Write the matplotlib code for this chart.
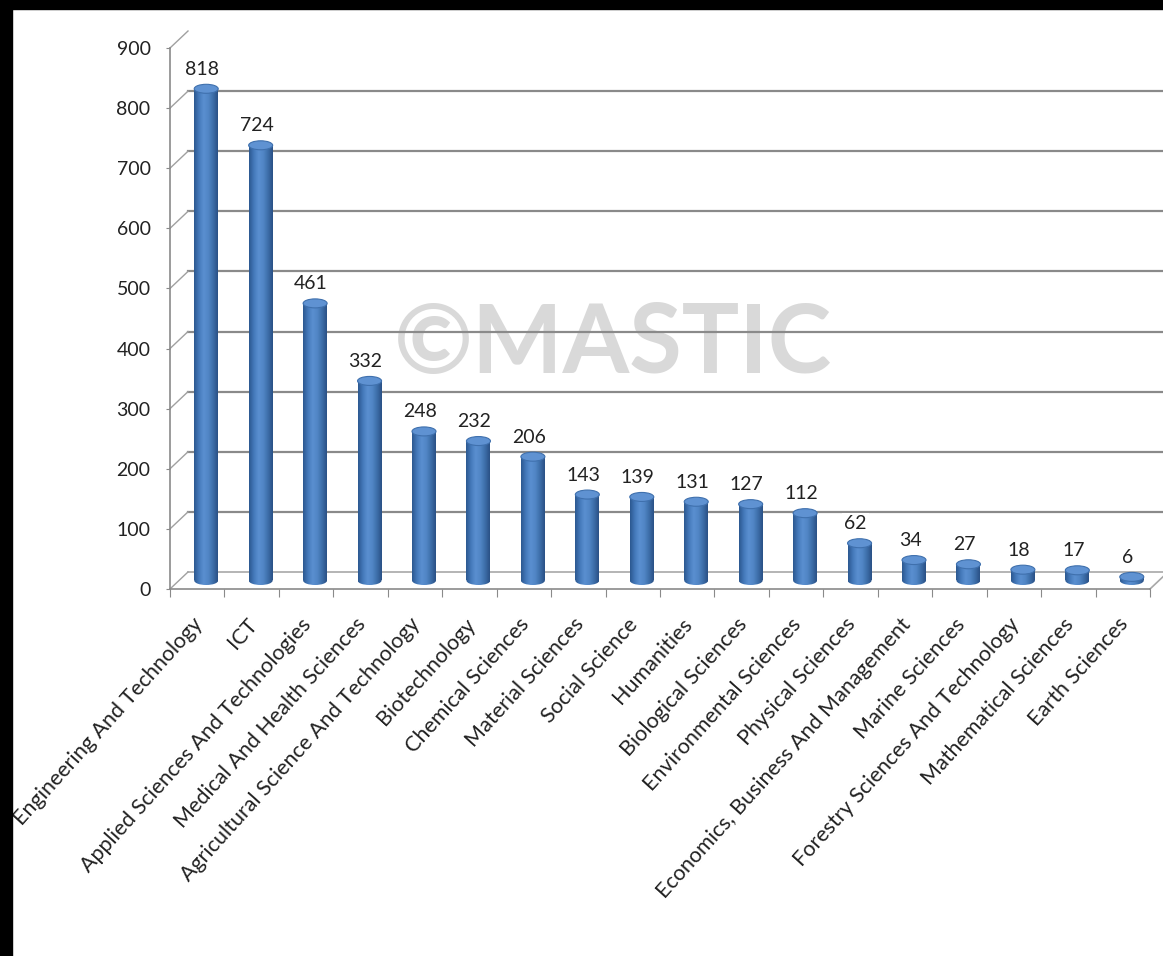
import numpy as np
import matplotlib
matplotlib.use("Agg")
import matplotlib.pyplot as plt
from matplotlib.patches import Rectangle, Ellipse
from matplotlib.colors import LinearSegmentedColormap

plt.rcParams['font.family'] = ['Lato', 'DejaVu Sans']

categories = [
    "Engineering And Technology", "ICT", "Applied Sciences And Technologies",
    "Medical And Health Sciences", "Agricultural Science And Technology",
    "Biotechnology", "Chemical Sciences", "Material Sciences", "Social Science",
    "Humanities", "Biological Sciences", "Environmental Sciences",
    "Physical Sciences", "Economics, Business And Management", "Marine Sciences",
    "Forestry Sciences And Technology", "Mathematical Sciences", "Earth Sciences",
]
values = [818, 724, 461, 332, 248, 232, 206, 143, 139, 131, 127, 112, 62, 34, 27, 18, 17, 6]
yticks = list(range(0, 901, 100))

W, H = 1163, 956
fig = plt.figure(figsize=(W / 100, H / 100), dpi=100)
fig.patch.set_facecolor('white')

# front plane of the fake 3d box (pixels)
left_px, right_px, base_px, top_px = 170, 1150, 589, 48
ax = fig.add_axes([left_px / W, (H - base_px) / H,
                   (right_px - left_px) / W, (base_px - top_px) / H])
n = len(categories)
ax.set_facecolor('none')

# depth offset, converted from pixels to data units
px_x = (right_px - left_px) / n
px_y = (base_px - top_px) / 900
DX, DY = 18 / px_x, 17 / px_y

grid_c = '#8a8a8a'
# back wall gridlines
for v in yticks[1:-1]:
    ax.plot([DX, n + 1], [v + DY, v + DY], color=grid_c, lw=1.6, clip_on=False, zorder=1)
# floor back edge and side diagonals
ax.plot([DX, n + DX], [DY, DY], color='#a8a8a8', lw=1.2, clip_on=False, zorder=1)
ax.plot([n, n + DX], [0, DY], color='#a8a8a8', lw=1.2, clip_on=False, zorder=1)
for v in yticks:
    ax.plot([0, DX], [v, v + DY], color='#a0a0a0', lw=1.0, clip_on=False, zorder=1)

# watermark
ax.text(0.452, 0.45, "\u00a9MASTIC", transform=ax.transAxes, fontsize=69,
        fontweight='bold', color='#d9d9d9', ha='center', va='center', zorder=0.5)

# cylinders
cyl = LinearSegmentedColormap.from_list(
    'cyl', ['#2c5890', '#4479ba', '#5a8fd0', '#5186c6', '#3d6ea9', '#2a5186'])
grad = np.linspace(0, 1, 64).reshape(1, -1)
bw = 24 / px_x
eh = 9 / px_y
for i, v in enumerate(values):
    cx = i + 0.5 + DX / 2
    cy = DY / 2
    x0 = cx - bw / 2
    body = Rectangle((x0, cy), bw, v, transform=ax.transData)
    bottom = Ellipse((cx, cy), bw, eh, transform=ax.transData)
    for clip in (body, bottom):
        im = ax.imshow(grad, extent=(x0, x0 + bw, cy - eh, cy + v), cmap=cyl,
                       aspect='auto', interpolation='bilinear', zorder=3)
        im.set_clip_path(clip)
    top = Ellipse((cx, cy + v), bw, eh, facecolor='#5f92d2', edgecolor='#3f70ad',
                  lw=0.8, zorder=4)
    ax.add_patch(top)
    ax.annotate(str(v), xy=(cx, cy + v), xytext=(-4, 11), textcoords='offset pixels',
                ha='center', va='bottom', fontsize=14, color='#222222', zorder=6,
                bbox=dict(facecolor='white', edgecolor='none', pad=1.5))

ax.set_xlim(0, n)
ax.set_ylim(0, 900)

# axes
for s in ('top', 'right'):
    ax.spines[s].set_visible(False)
for s in ('left', 'bottom'):
    ax.spines[s].set_color('#8a8a8a')
    ax.spines[s].set_linewidth(1.2)
ax.set_yticks(yticks)
ax.tick_params(axis='y', length=3, color='#8a8a8a', pad=11, labelsize=14,
               labelcolor='#222222')
ax.set_xticks(range(n + 1))
ax.set_xticklabels([])
ax.tick_params(axis='x', length=6, color='#8a8a8a')

for i, lab in enumerate(categories):
    ax.annotate(lab, xy=(i + 0.5, 0), xytext=(2, -32), textcoords='offset pixels',
                rotation=48, rotation_mode='anchor', ha='right', va='center',
                fontsize=15.5, color='#222222', annotation_clip=False)

# black frame strips top and left
fig.add_artist(Rectangle((0, 1 - 9 / H), 1, 9 / H, transform=fig.transFigure,
                         color='black', zorder=10))
fig.add_artist(Rectangle((0, 0), 12 / W, 1, transform=fig.transFigure,
                         color='black', zorder=10))

fig.savefig('out.png', dpi=100)
